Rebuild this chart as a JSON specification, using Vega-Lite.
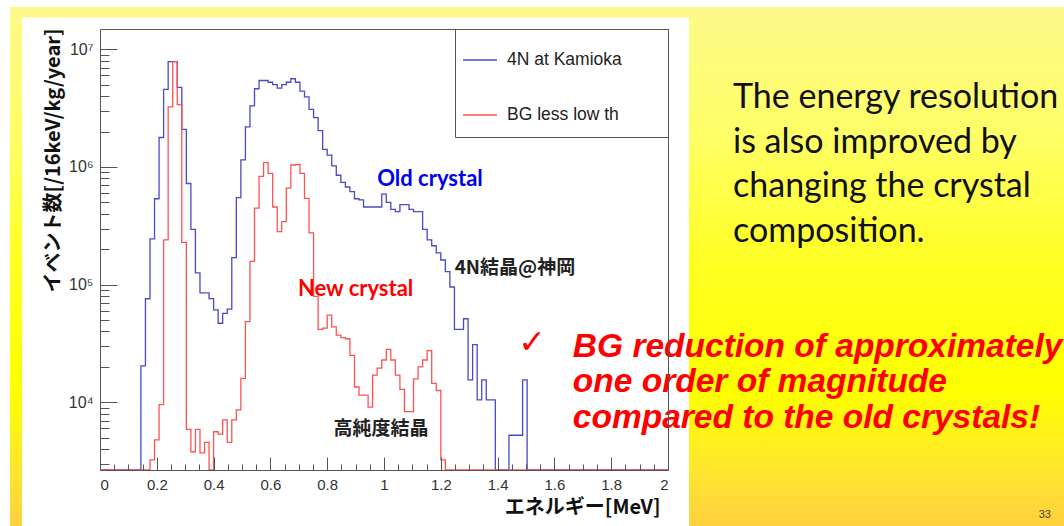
{
  "$schema": "https://vega.github.io/schema/vega-lite/v6.json",
  "width": 568,
  "height": 441,
  "autosize": {"type": "none"},
  "padding": {"left": 100, "top": 29, "right": 396, "bottom": 56},
  "background": "white",
  "config": {
    "view": {"stroke": null},
    "axis": {"grid": false, "domainColor": "#555", "tickColor": "#555", "labelFont": "Liberation Sans", "labelColor": "#333", "labelFontSize": 15}
  },
  "data": {"values": [{}]},
  "datasets": {
    "hist": [
      {"s": "4N at Kamioka", "e": 0, "v": 2660},
      {"s": "4N at Kamioka", "e": 0.144, "v": 20400},
      {"s": "4N at Kamioka", "e": 0.16, "v": 75900},
      {"s": "4N at Kamioka", "e": 0.176, "v": 245000},
      {"s": "4N at Kamioka", "e": 0.192, "v": 537000},
      {"s": "4N at Kamioka", "e": 0.208, "v": 1780000},
      {"s": "4N at Kamioka", "e": 0.224, "v": 4570000},
      {"s": "4N at Kamioka", "e": 0.24, "v": 7850000},
      {"s": "4N at Kamioka", "e": 0.256, "v": 7850000},
      {"s": "4N at Kamioka", "e": 0.272, "v": 4750000},
      {"s": "4N at Kamioka", "e": 0.288, "v": 2090000},
      {"s": "4N at Kamioka", "e": 0.304, "v": 724000},
      {"s": "4N at Kamioka", "e": 0.32, "v": 295000},
      {"s": "4N at Kamioka", "e": 0.336, "v": 126000},
      {"s": "4N at Kamioka", "e": 0.352, "v": 85000},
      {"s": "4N at Kamioka", "e": 0.368, "v": 85000},
      {"s": "4N at Kamioka", "e": 0.384, "v": 76000},
      {"s": "4N at Kamioka", "e": 0.4, "v": 61000},
      {"s": "4N at Kamioka", "e": 0.416, "v": 47000},
      {"s": "4N at Kamioka", "e": 0.432, "v": 57000},
      {"s": "4N at Kamioka", "e": 0.448, "v": 62000},
      {"s": "4N at Kamioka", "e": 0.464, "v": 170000},
      {"s": "4N at Kamioka", "e": 0.48, "v": 550000},
      {"s": "4N at Kamioka", "e": 0.496, "v": 1150000},
      {"s": "4N at Kamioka", "e": 0.512, "v": 2190000},
      {"s": "4N at Kamioka", "e": 0.528, "v": 3310000},
      {"s": "4N at Kamioka", "e": 0.544, "v": 4620000},
      {"s": "4N at Kamioka", "e": 0.56, "v": 5430000},
      {"s": "4N at Kamioka", "e": 0.576, "v": 5430000},
      {"s": "4N at Kamioka", "e": 0.592, "v": 5250000},
      {"s": "4N at Kamioka", "e": 0.608, "v": 5010000},
      {"s": "4N at Kamioka", "e": 0.624, "v": 4680000},
      {"s": "4N at Kamioka", "e": 0.64, "v": 5010000},
      {"s": "4N at Kamioka", "e": 0.656, "v": 5250000},
      {"s": "4N at Kamioka", "e": 0.672, "v": 5620000},
      {"s": "4N at Kamioka", "e": 0.688, "v": 5250000},
      {"s": "4N at Kamioka", "e": 0.704, "v": 4420000},
      {"s": "4N at Kamioka", "e": 0.72, "v": 3940000},
      {"s": "4N at Kamioka", "e": 0.736, "v": 3090000},
      {"s": "4N at Kamioka", "e": 0.752, "v": 2630000},
      {"s": "4N at Kamioka", "e": 0.768, "v": 2040000},
      {"s": "4N at Kamioka", "e": 0.784, "v": 1410000},
      {"s": "4N at Kamioka", "e": 0.8, "v": 1260000},
      {"s": "4N at Kamioka", "e": 0.816, "v": 1020000},
      {"s": "4N at Kamioka", "e": 0.832, "v": 851000},
      {"s": "4N at Kamioka", "e": 0.848, "v": 741000},
      {"s": "4N at Kamioka", "e": 0.864, "v": 676000},
      {"s": "4N at Kamioka", "e": 0.88, "v": 617000},
      {"s": "4N at Kamioka", "e": 0.896, "v": 537000},
      {"s": "4N at Kamioka", "e": 0.912, "v": 525000},
      {"s": "4N at Kamioka", "e": 0.928, "v": 457000},
      {"s": "4N at Kamioka", "e": 0.944, "v": 457000},
      {"s": "4N at Kamioka", "e": 0.96, "v": 457000},
      {"s": "4N at Kamioka", "e": 0.976, "v": 457000},
      {"s": "4N at Kamioka", "e": 0.992, "v": 589000},
      {"s": "4N at Kamioka", "e": 1.008, "v": 501000},
      {"s": "4N at Kamioka", "e": 1.024, "v": 437000},
      {"s": "4N at Kamioka", "e": 1.04, "v": 417000},
      {"s": "4N at Kamioka", "e": 1.056, "v": 479000},
      {"s": "4N at Kamioka", "e": 1.072, "v": 479000},
      {"s": "4N at Kamioka", "e": 1.088, "v": 437000},
      {"s": "4N at Kamioka", "e": 1.104, "v": 417000},
      {"s": "4N at Kamioka", "e": 1.12, "v": 417000},
      {"s": "4N at Kamioka", "e": 1.136, "v": 295000},
      {"s": "4N at Kamioka", "e": 1.152, "v": 240000},
      {"s": "4N at Kamioka", "e": 1.168, "v": 214000},
      {"s": "4N at Kamioka", "e": 1.184, "v": 186000},
      {"s": "4N at Kamioka", "e": 1.2, "v": 162000},
      {"s": "4N at Kamioka", "e": 1.216, "v": 129000},
      {"s": "4N at Kamioka", "e": 1.232, "v": 95500},
      {"s": "4N at Kamioka", "e": 1.248, "v": 41700},
      {"s": "4N at Kamioka", "e": 1.264, "v": 41700},
      {"s": "4N at Kamioka", "e": 1.28, "v": 51300},
      {"s": "4N at Kamioka", "e": 1.296, "v": 15500},
      {"s": "4N at Kamioka", "e": 1.312, "v": 30900},
      {"s": "4N at Kamioka", "e": 1.328, "v": 10500},
      {"s": "4N at Kamioka", "e": 1.344, "v": 15500},
      {"s": "4N at Kamioka", "e": 1.36, "v": 10500},
      {"s": "4N at Kamioka", "e": 1.376, "v": 10500},
      {"s": "4N at Kamioka", "e": 1.392, "v": 2660},
      {"s": "4N at Kamioka", "e": 1.44, "v": 5250},
      {"s": "4N at Kamioka", "e": 1.456, "v": 5250},
      {"s": "4N at Kamioka", "e": 1.472, "v": 5250},
      {"s": "4N at Kamioka", "e": 1.488, "v": 15500},
      {"s": "4N at Kamioka", "e": 1.504, "v": 2660},
      {"s": "4N at Kamioka", "e": 2, "v": 2660},
      {"s": "BG less low th", "e": 0, "v": 2660},
      {"s": "BG less low th", "e": 0.176, "v": 3240},
      {"s": "BG less low th", "e": 0.192, "v": 4790},
      {"s": "BG less low th", "e": 0.208, "v": 9550},
      {"s": "BG less low th", "e": 0.224, "v": 240000},
      {"s": "BG less low th", "e": 0.24, "v": 3240000},
      {"s": "BG less low th", "e": 0.256, "v": 7850000},
      {"s": "BG less low th", "e": 0.272, "v": 3390000},
      {"s": "BG less low th", "e": 0.288, "v": 229000},
      {"s": "BG less low th", "e": 0.304, "v": 5890},
      {"s": "BG less low th", "e": 0.32, "v": 3800},
      {"s": "BG less low th", "e": 0.336, "v": 5890},
      {"s": "BG less low th", "e": 0.352, "v": 3720},
      {"s": "BG less low th", "e": 0.368, "v": 4570},
      {"s": "BG less low th", "e": 0.384, "v": 2660},
      {"s": "BG less low th", "e": 0.4, "v": 5620},
      {"s": "BG less low th", "e": 0.416, "v": 5370},
      {"s": "BG less low th", "e": 0.432, "v": 7080},
      {"s": "BG less low th", "e": 0.448, "v": 4570},
      {"s": "BG less low th", "e": 0.464, "v": 7080},
      {"s": "BG less low th", "e": 0.48, "v": 8610},
      {"s": "BG less low th", "e": 0.496, "v": 16000},
      {"s": "BG less low th", "e": 0.512, "v": 48500},
      {"s": "BG less low th", "e": 0.528, "v": 158000},
      {"s": "BG less low th", "e": 0.544, "v": 447000},
      {"s": "BG less low th", "e": 0.56, "v": 832000},
      {"s": "BG less low th", "e": 0.576, "v": 1090000},
      {"s": "BG less low th", "e": 0.592, "v": 881000},
      {"s": "BG less low th", "e": 0.608, "v": 457000},
      {"s": "BG less low th", "e": 0.624, "v": 282000},
      {"s": "BG less low th", "e": 0.64, "v": 343000},
      {"s": "BG less low th", "e": 0.656, "v": 661000},
      {"s": "BG less low th", "e": 0.672, "v": 1040000},
      {"s": "BG less low th", "e": 0.688, "v": 1050000},
      {"s": "BG less low th", "e": 0.704, "v": 881000},
      {"s": "BG less low th", "e": 0.72, "v": 542000},
      {"s": "BG less low th", "e": 0.736, "v": 275000},
      {"s": "BG less low th", "e": 0.752, "v": 79400},
      {"s": "BG less low th", "e": 0.768, "v": 41700},
      {"s": "BG less low th", "e": 0.784, "v": 42700},
      {"s": "BG less low th", "e": 0.8, "v": 55000},
      {"s": "BG less low th", "e": 0.816, "v": 43700},
      {"s": "BG less low th", "e": 0.832, "v": 37200},
      {"s": "BG less low th", "e": 0.848, "v": 35500},
      {"s": "BG less low th", "e": 0.864, "v": 34700},
      {"s": "BG less low th", "e": 0.88, "v": 25100},
      {"s": "BG less low th", "e": 0.896, "v": 13500},
      {"s": "BG less low th", "e": 0.912, "v": 11500},
      {"s": "BG less low th", "e": 0.928, "v": 11500},
      {"s": "BG less low th", "e": 0.944, "v": 9120},
      {"s": "BG less low th", "e": 0.96, "v": 17000},
      {"s": "BG less low th", "e": 0.976, "v": 19500},
      {"s": "BG less low th", "e": 0.992, "v": 22900},
      {"s": "BG less low th", "e": 1.008, "v": 28200},
      {"s": "BG less low th", "e": 1.024, "v": 22900},
      {"s": "BG less low th", "e": 1.04, "v": 17000},
      {"s": "BG less low th", "e": 1.056, "v": 12900},
      {"s": "BG less low th", "e": 1.072, "v": 8320},
      {"s": "BG less low th", "e": 1.088, "v": 8320},
      {"s": "BG less low th", "e": 1.104, "v": 15800},
      {"s": "BG less low th", "e": 1.12, "v": 20000},
      {"s": "BG less low th", "e": 1.136, "v": 22900},
      {"s": "BG less low th", "e": 1.152, "v": 27500},
      {"s": "BG less low th", "e": 1.168, "v": 14500},
      {"s": "BG less low th", "e": 1.184, "v": 12600},
      {"s": "BG less low th", "e": 1.2, "v": 3240},
      {"s": "BG less low th", "e": 1.216, "v": 2660},
      {"s": "BG less low th", "e": 2, "v": 2660}
    ]
  },
  "layer": [
    {
      "mark": {"type": "rect", "clip": false, "fill": {"gradient": "linear", "x1": 0, "y1": 0, "x2": 0, "y2": 1, "stops": [{"offset": 0, "color": "#fdf98a"}, {"offset": 0.25, "color": "#ffff66"}, {"offset": 0.5, "color": "#ffff22"}, {"offset": 0.74, "color": "#ffff00"}, {"offset": 0.88, "color": "#ffe82c"}, {"offset": 1, "color": "#ffd040"}]}},
      "encoding": {
        "x": {"datum": -0.317, "type": "quantitative", "scale": {"domain": [0, 2], "nice": false, "zero": false},
              "axis": {"orient": "bottom", "zindex": 1, "offset": -13, "values": [0, 0.2, 0.4, 0.6, 0.8, 1, 1.2, 1.4, 1.6, 1.8, 2], "tickSize": 13, "labels": false, "domain": false, "title": null}},
        "x2": {"datum": 3.4},
        "y": {"datum": 22880000, "type": "quantitative", "scale": {"type": "log", "domain": [2660, 14880000], "nice": false},
              "axis": {"orient": "left", "zindex": 1, "offset": -17, "values": [10000, 100000, 1000000, 10000000], "tickSize": 17, "labels": false, "domain": false, "title": null}},
        "y2": {"datum": 880}
      }
    },
    {
      "mark": {"type": "rect", "clip": false, "fill": "white"},
      "encoding": {
        "x": {"datum": -0.2746, "type": "quantitative", "scale": {"domain": [0, 2], "nice": false, "zero": false},
              "axis": {"orient": "bottom", "zindex": 1, "offset": -6, "values": [0.05, 0.1, 0.15, 0.25, 0.3, 0.35, 0.45, 0.5, 0.55, 0.65, 0.7, 0.75, 0.85, 0.9, 0.95, 1.05, 1.1, 1.15, 1.25, 1.3, 1.35, 1.45, 1.5, 1.55, 1.65, 1.7, 1.75, 1.85, 1.9, 1.95], "tickSize": 6, "labels": false, "domain": false, "title": null}},
        "x2": {"datum": 2.074},
        "y": {"datum": 18640000, "type": "quantitative", "scale": {"type": "log", "domain": [2660, 14880000], "nice": false},
              "axis": {"orient": "left", "zindex": 1, "offset": -9, "values": [3000, 4000, 5000, 6000, 7000, 8000, 9000, 20000, 30000, 40000, 50000, 60000, 70000, 80000, 90000, 200000, 300000, 400000, 500000, 600000, 700000, 800000, 900000, 2000000, 3000000, 4000000, 5000000, 6000000, 7000000, 8000000, 9000000], "tickSize": 9, "labels": false, "domain": false, "title": null}},
        "y2": {"datum": 880}
      }
    },
    {
      "data": {"name": "hist"},
      "mark": {"type": "line", "interpolate": "step-after", "strokeWidth": 1.3, "clip": true},
      "encoding": {
        "x": {"field": "e", "type": "quantitative", "scale": {"domain": [0, 2], "nice": false, "zero": false},
              "axis": {"orient": "bottom", "zindex": 1, "values": [0, 0.2, 0.4, 0.6, 0.8, 1, 1.2, 1.4, 1.6, 1.8, 2], "format": "~g", "ticks": false, "labelPadding": 7, "domain": true,
                       "title": "エネルギー[MeV]", "titleFont": "Noto Sans CJK JP", "titleFontSize": 20, "titleFontWeight": "bold", "titleColor": "#111", "titleAlign": "right", "titleBaseline": "middle", "titleX": 560, "titleY": 37}},
        "y": {"field": "v", "type": "quantitative", "scale": {"type": "log", "domain": [2660, 14880000], "nice": false},
              "axis": {"orient": "left", "zindex": 1, "values": [10000, 100000, 1000000, 10000000], "labelExpr": "datum.value >= 9000000 ? '10⁷' : datum.value >= 900000 ? '10⁶' : datum.value >= 90000 ? '10⁵' : '10⁴'", "ticks": false, "labelPadding": 7, "labelFontSize": 16, "domain": true,
                       "title": "イベント数[/16keV/kg/year]", "titleFont": "Noto Sans CJK JP", "titleFontSize": 20, "titleFontWeight": "bold", "titleColor": "#111", "titleAlign": "right", "titleBaseline": "middle", "titleX": -47, "titleY": -1}},
        "color": {"field": "s", "type": "nominal", "scale": {"domain": ["4N at Kamioka", "BG less low th"], "range": ["#4a4ac6", "#ff5252"]},
                  "legend": {"orient": "none", "legendX": 355, "legendY": 0, "title": " ", "titleOrient": "right", "titlePadding": 33, "titleFontSize": 11,
                             "symbolType": "stroke", "symbolSize": 1156, "symbolStrokeWidth": 1.3, "symbolOffset": -6, "labelFontSize": 17.5, "labelFont": "Liberation Sans", "labelColor": "#222", "labelOffset": 9,
                             "rowPadding": 28, "padding": 13, "strokeColor": "#555", "fillColor": "white"}}
      }
    },
    {
      "mark": {"type": "text", "text": "Old crystal", "font": "Lato", "fontWeight": "bold", "fontSize": 22, "color": "#0000ee", "align": "center", "baseline": "middle", "clip": false},
      "encoding": {
        "x": {"datum": 1.162, "type": "quantitative", "scale": {"domain": [0, 2], "nice": false, "zero": false},
              "axis": {"orient": "top", "zindex": 1, "ticks": false, "labels": false, "domain": true, "title": null}},
        "y": {"datum": 790000, "type": "quantitative", "scale": {"type": "log", "domain": [2660, 14880000], "nice": false},
              "axis": {"orient": "right", "zindex": 1, "ticks": false, "labels": false, "domain": true, "title": null}}
      }
    },
    {
      "mark": {"type": "text", "text": "New crystal", "font": "Lato", "fontWeight": "bold", "fontSize": 22, "color": "#ff0000", "align": "center", "baseline": "middle", "clip": false},
      "encoding": {
        "x": {"datum": 0.9, "type": "quantitative", "scale": {"domain": [0, 2], "nice": false, "zero": false}, "axis": null},
        "y": {"datum": 91900, "type": "quantitative", "scale": {"type": "log", "domain": [2660, 14880000], "nice": false}, "axis": null}
      }
    },
    {
      "mark": {"type": "text", "text": "4N結晶@神岡", "font": "Noto Sans CJK JP", "fontWeight": "bold", "fontSize": 19, "color": "#222", "align": "center", "baseline": "middle", "clip": false},
      "encoding": {
        "x": {"datum": 1.461, "type": "quantitative", "scale": {"domain": [0, 2], "nice": false, "zero": false}, "axis": null},
        "y": {"datum": 138000, "type": "quantitative", "scale": {"type": "log", "domain": [2660, 14880000], "nice": false}, "axis": null}
      }
    },
    {
      "mark": {"type": "text", "text": "高純度結晶", "font": "Noto Sans CJK JP", "fontWeight": "bold", "fontSize": 19, "color": "#222", "align": "center", "baseline": "middle", "clip": false},
      "encoding": {
        "x": {"datum": 0.989, "type": "quantitative", "scale": {"domain": [0, 2], "nice": false, "zero": false}, "axis": null},
        "y": {"datum": 5990, "type": "quantitative", "scale": {"type": "log", "domain": [2660, 14880000], "nice": false}, "axis": null}
      }
    },
    {
      "mark": {"type": "text", "text": ["The energy resolution", "is also improved by", "changing the crystal", "composition."], "font": "Lato", "fontSize": 34, "color": "#111", "align": "left", "baseline": "alphabetic", "lineHeight": 44.5, "clip": false},
      "encoding": {
        "x": {"datum": 2.229, "type": "quantitative", "scale": {"domain": [0, 2], "nice": false, "zero": false}, "axis": null},
        "y": {"datum": 3170000, "type": "quantitative", "scale": {"type": "log", "domain": [2660, 14880000], "nice": false}, "axis": null}
      }
    },
    {
      "mark": {"type": "text", "text": ["BG reduction of approximately", "one order of magnitude", "compared to the old crystals!"], "font": "Liberation Sans", "fontWeight": "bold", "fontStyle": "italic", "fontSize": 33.5, "color": "#ff0000", "align": "left", "baseline": "alphabetic", "lineHeight": 35.5, "clip": false},
      "encoding": {
        "x": {"datum": 1.665, "type": "quantitative", "scale": {"domain": [0, 2], "nice": false, "zero": false}, "axis": null},
        "y": {"datum": 24300, "type": "quantitative", "scale": {"type": "log", "domain": [2660, 14880000], "nice": false}, "axis": null}
      }
    },
    {
      "mark": {"type": "text", "text": "✓", "font": "DejaVu Sans", "fontSize": 33, "fontWeight": "bold", "color": "#ff0000", "align": "center", "baseline": "middle", "clip": false},
      "encoding": {
        "x": {"datum": 1.521, "type": "quantitative", "scale": {"domain": [0, 2], "nice": false, "zero": false}, "axis": null},
        "y": {"datum": 31900, "type": "quantitative", "scale": {"type": "log", "domain": [2660, 14880000], "nice": false}, "axis": null}
      }
    },
    {
      "mark": {"type": "text", "text": "33", "font": "Liberation Sans", "fontSize": 11, "color": "#444", "align": "center", "baseline": "middle", "clip": false},
      "encoding": {
        "x": {"datum": 3.327, "type": "quantitative", "scale": {"domain": [0, 2], "nice": false, "zero": false}, "axis": null},
        "y": {"datum": 1100, "type": "quantitative", "scale": {"type": "log", "domain": [2660, 14880000], "nice": false}, "axis": null}
      }
    }
  ],
  "resolve": {"axis": {"x": "independent", "y": "independent"}}
}
